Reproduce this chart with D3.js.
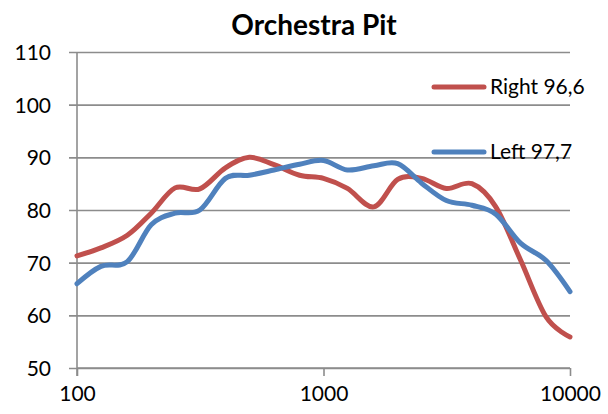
<!DOCTYPE html>
<html><head><meta charset="utf-8">
<script src="https://cdn.jsdelivr.net/npm/d3@7"></script>
<style>body{margin:0;background:#fff;} text{font-family:Lato,"Open Sans",sans-serif;fill:#000;}</style>
</head><body><svg id="c" width="608" height="414"></svg>
<script>
const freqs = [100,125,160,200,250,315,400,500,630,800,1000,1250,1600,2000,2500,3150,4000,5000,6300,8000,10000];
const rightVals = [71.3,72.8,75.2,79.4,84.2,84,88,90,88.6,86.6,86,84.1,80.6,85.8,86,84.1,85,80.6,70.5,59.7,55.9];
const leftVals  = [66,69.3,70.2,77.2,79.4,80,86,86.6,87.6,88.7,89.4,87.6,88.4,88.8,85.1,81.8,80.9,79.2,73.7,70.4,64.5];
const seriesNames = ["Right 96,6","Left 97,7"];
const seriesColors = ["#C0504D","#4F81BD"];
const yTicks = [50,60,70,80,90,100,110];
const xTicks = [100,1000,10000];
const title = "Orchestra Pit";

const svg = d3.select("#c");
const L=77,R=570,T=52,B=368;
const x = d3.scaleLog().domain([100,10000]).range([L,R]);
const y = d3.scaleLinear().domain([50,110]).range([B,T]);

// gridlines + y axis
const ya = d3.axisLeft(y).tickValues(yTicks).tickSize(-(R-L)).tickFormat(d3.format("d")).tickPadding(18);
const gy = svg.append("g").attr("transform",`translate(${L},0)`).call(ya);
gy.select(".domain").remove();
gy.selectAll(".tick line").attr("x1",-8).attr("stroke","#8c8c8c").attr("stroke-width",1.6);
gy.selectAll(".tick text").attr("font-size",21).attr("x",-26).attr("dy","0.35em").style("font-family","Lato");

// x axis
const xa = d3.axisBottom(x).tickValues(xTicks).tickSize(8).tickFormat(d3.format("d")).tickPadding(10);
const gx = svg.append("g").attr("transform",`translate(0,${B})`).call(xa);
gx.select(".domain").attr("stroke","#8c8c8c").attr("stroke-width",1.6).attr("d",`M${L},0H${R}`);
gx.selectAll(".tick line").attr("stroke","#8c8c8c").attr("stroke-width",1.6);
gx.selectAll(".tick text").attr("font-size",21).style("font-family","Lato");
// y axis line
svg.append("line").attr("x1",L).attr("x2",L).attr("y1",T).attr("y2",B+8).attr("stroke","#8c8c8c").attr("stroke-width",1.6);

const line = d3.line().x((d,i)=>x(freqs[i])).y(d=>y(d)).curve(d3.curveCardinal.tension(0));
[rightVals,leftVals].forEach((vals,k)=>{
  svg.append("path").attr("d",line(vals)).attr("fill","none").attr("stroke",seriesColors[k])
    .attr("stroke-width",5).attr("stroke-linecap","round").attr("stroke-linejoin","round");
});

// legend
const legY=[87,152];
seriesNames.forEach((n,k)=>{
  svg.append("line").attr("x1",434).attr("x2",484).attr("y1",legY[k]).attr("y2",legY[k])
    .attr("stroke",seriesColors[k]).attr("stroke-width",5).attr("stroke-linecap","round");
  svg.append("text").attr("x",490).attr("y",legY[k]).attr("dy","0.35em").attr("font-size",21).text(n);
});

svg.append("text").attr("x",314).attr("y",35).attr("text-anchor","middle").attr("font-size",28).attr("font-weight","bold").text(title);
</script></body></html>
